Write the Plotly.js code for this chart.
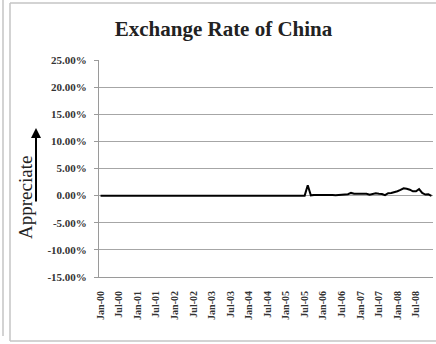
<!DOCTYPE html>
<html>
<head>
<meta charset="utf-8">
<script src="https://cdn.plot.ly/plotly-3.0.1.min.js"></script>
<style>html,body{margin:0;padding:0;background:#fff;}#chart{width:436px;height:344px;}</style>
</head>
<body>
<div id="chart"></div>
<script>
// Monthly categories Jan-00 .. Dec-08
const monthNames = ['Jan','Feb','Mar','Apr','May','Jun','Jul','Aug','Sep','Oct','Nov','Dec'];
const yearCodes = ['00','01','02','03','04','05','06','07','08'];
const categories = [];
yearCodes.forEach(y => monthNames.forEach(m => categories.push(m + '-' + y)));

// Monthly appreciation (fraction)
const appreciation = [
  0,0,0,0,0,0,0,0,0,0,0,0,            // 2000
  0,0,0,0,0,0,0,0,0,0,0,0,            // 2001
  0,0,0,0,0,0,0,0,0,0,0,0,            // 2002
  0,0,0,0,0,0,0,0,0,0,0,0,            // 2003
  0,0,0,0,0,0,0,0,0,0,0,0,            // 2004
  0,0,0,0,0,0,0,0.019,0.0005,0.001,0.001,0.0015,   // 2005
  0.0015,0.002,0.002,0.001,0.0005,0.001,0.002,0.002,0.0025,0.005,0.0035,0.0035, // 2006
  0.0035,0.0035,0.0035,0.0015,0.003,0.0045,0.0035,0.003,0.001,0.0045,0.005,0.006, // 2007
  0.008,0.0105,0.0135,0.0125,0.011,0.008,0.008,0.012,0.005,0.002,0.0025,-0.0005  // 2008
];

const tickLabels = ['Jan-00','Jul-00','Jan-01','Jul-01','Jan-02','Jul-02','Jan-03','Jul-03','Jan-04','Jul-04','Jan-05','Jul-05','Jan-06','Jul-06','Jan-07','Jul-07','Jan-08','Jul-08'];
const yTicks = [0.25,0.20,0.15,0.10,0.05,0,-0.05,-0.10,-0.15];

const chartTitle = 'Exchange Rate of China';
const yLabel = 'Appreciate';

// pixel -> paper helpers (plot area: x 99..433, y 60..277)
const L = 99, R = 3, T = 60, B = 67, W = 436, H = 344;
const pw = W - L - R, ph = H - T - B;
const px = x => (x - L) / pw;
const py = y => 1 - (y - T) / ph;

const trace = {
  x: categories,
  y: appreciation,
  type: 'scatter',
  mode: 'lines',
  line: {color: '#000000', width: 2},
  hoverinfo: 'skip'
};

const layout = {
  width: W, height: H,
  margin: {l: L, r: R, t: T, b: B, pad: 0},
  paper_bgcolor: '#ffffff',
  plot_bgcolor: '#ffffff',
  showlegend: false,
  title: {
    text: '<b>' + chartTitle + '</b>',
    font: {family: 'Liberation Serif, serif', size: 21, color: '#222222'},
    x: 223.5 / W, xanchor: 'center',
    y: 1 - 29 / H, yanchor: 'middle'
  },
  xaxis: {
    type: 'category',
    categoryorder: 'array',
    categoryarray: categories,
    range: [-0.5, categories.length - 0.5],
    tickmode: 'array',
    tickvals: tickLabels,
    ticktext: tickLabels.map(t => '<b>' + t + '</b>'),
    tickangle: -90,
    tickfont: {family: 'Liberation Serif, serif', size: 10, color: '#333333'},
    ticks: '',
    ticklabelstandoff: 9,
    showgrid: false,
    showline: true,
    linecolor: '#9a9a9a',
    linewidth: 1,
    zeroline: false,
    fixedrange: true
  },
  yaxis: {
    range: [-0.15, 0.25],
    tickmode: 'array',
    tickvals: yTicks,
    ticktext: yTicks.map(v => '<b>' + (v * 100).toFixed(2) + '%</b>'),
    tickfont: {family: 'Liberation Serif, serif', size: 11, color: '#333333'},
    ticks: 'outside',
    ticklen: 4,
    tickcolor: '#9a9a9a',
    ticklabelstandoff: 5,
    showgrid: true,
    gridcolor: '#a6a6a6',
    gridwidth: 1,
    showline: true,
    linecolor: '#9a9a9a',
    linewidth: 1,
    zeroline: false,
    fixedrange: true
  },
  annotations: [
    {
      text: yLabel,
      xref: 'paper', yref: 'paper',
      x: px(25), y: py(198),
      xanchor: 'center', yanchor: 'middle',
      textangle: -90,
      showarrow: false,
      font: {family: 'Liberation Serif, serif', size: 19, color: '#222222'}
    },
    {
      text: '',
      xref: 'paper', yref: 'paper',
      x: px(36), y: py(128),
      ax: 0, ay: 75,
      showarrow: true,
      arrowhead: 2, arrowsize: 1, arrowwidth: 2,
      arrowcolor: '#000000'
    }
  ],
  shapes: [
    {type: 'line', xref: 'paper', yref: 'paper', x0: px(10), x1: px(445), y0: py(3), y1: py(3), line: {color: '#c4c4c4', width: 1.5}},
    {type: 'line', xref: 'paper', yref: 'paper', x0: px(10), x1: px(445), y0: py(341), y1: py(341), line: {color: '#c4c4c4', width: 1.5}},
    {type: 'line', xref: 'paper', yref: 'paper', x0: px(10), x1: px(10), y0: py(3), y1: py(341), line: {color: '#c4c4c4', width: 1.5}},
    {type: 'line', xref: 'paper', yref: 'paper', x0: px(3), x1: px(3), y0: py(0), y1: py(336), line: {color: '#c4c4c4', width: 1.5}}
  ]
};

Plotly.newPlot('chart', [trace], layout, {displayModeBar: false, staticPlot: true});
</script>
</body>
</html>
